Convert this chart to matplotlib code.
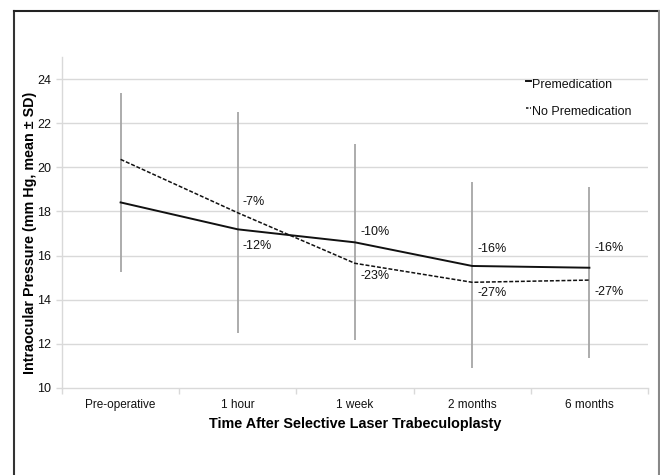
import matplotlib
matplotlib.use("Agg")
import matplotlib.pyplot as plt
from matplotlib.lines import Line2D

categories = ["Pre-operative", "1 hour", "1 week", "2 months", "6 months"]
series_names = ["Premedication", "No Premedication"]
premed = [18.41, 17.19, 16.60, 15.53, 15.45]
no_premed = [20.36, 17.94, 15.65, 14.79, 14.89]
sd_low = [15.26, 12.49, 12.17, 10.90, 11.34]
sd_high = [23.38, 22.51, 21.06, 19.35, 19.12]
premed_labels = ["", "-7%", "-10%", "-16%", "-16%"]
no_premed_labels = ["", "-12%", "-23%", "-27%", "-27%"]
yticks = [10, 12, 14, 16, 18, 20, 22, 24]

plt.rcParams['font.family'] = ['Liberation Sans', 'DejaVu Sans']

W, H = 660, 475
fig = plt.figure(figsize=(6.6, 4.75), dpi=100)
ax = fig.add_axes([62/W, 1-388/H, (648-62)/W, (388-57)/H])

x = [i + 0.5 for i in range(len(categories))]
grid_c = '#d9d9d9'
for yt in yticks:
    if yt > 10:
        ax.axhline(yt, color=grid_c, lw=1.0, zorder=0)

solid_style = dict(color='#111111', lw=1.4)
dash_style = dict(color='#111111', lw=1.1, ls=(0, (2.6, 1.2)))

ax.vlines(x, sd_low, sd_high, color='#a6a6a6', lw=1.3, zorder=1)
ax.plot(x, premed, zorder=3, **solid_style)
ax.plot(x, no_premed, zorder=3, **dash_style)

prem_off = [0, 27, 10, 17, 20]
nop_off = [0, -33, -13, -11, -12]
for i in range(len(categories)):
    if premed_labels[i]:
        ax.annotate(premed_labels[i], (x[i], premed[i]), xytext=(5, prem_off[i]),
                    textcoords='offset pixels', ha='left', va='center', fontsize=9, color='#111111')
    if no_premed_labels[i]:
        ax.annotate(no_premed_labels[i], (x[i], no_premed[i]), xytext=(5, nop_off[i]),
                    textcoords='offset pixels', ha='left', va='center', fontsize=9, color='#111111')

ax.set_xlim(0, 5)
ax.set_ylim(10, 25)
ax.set_yticks(yticks)
ax.set_yticklabels([str(v) for v in yticks], fontsize=9, color='#111111')
ax.set_xticks(x)
ax.set_xticklabels(categories, fontsize=8.5, color='#111111')
ax.set_xticks(range(0, 6), minor=True)
ax.tick_params(axis='x', which='major', length=0, pad=8)
ax.tick_params(axis='x', which='minor', length=4, color=grid_c, width=1)
ax.tick_params(axis='y', length=4, color=grid_c, width=1, pad=4)

for s in ['top', 'right']:
    ax.spines[s].set_visible(False)
for s in ['left', 'bottom']:
    ax.spines[s].set_color(grid_c)
    ax.spines[s].set_linewidth(1.0)

ax.set_xlabel("Time After Selective Laser Trabeculoplasty", fontsize=10.4, fontweight='bold', labelpad=4)
ax.set_ylabel("Intraocular Pressure (mm Hg, mean ± SD)", fontsize=10.3, fontweight='bold')
ax.yaxis.set_label_coords((37-62)/586, (388-233)/331)

# manual legend (handles sit high, as in the original)
leg_x_text = 532/W
leg_rows = [85, 112]
styles = [dict(color='#111111', lw=1.4),
          dict(color='#111111', lw=1.1, ls=(0, (1.6, 1.0)))]
for name, ypx, st in zip(series_names, leg_rows, styles):
    yf = 1 - ypx/H
    yh = 1 - (ypx - 4)/H
    fig.add_artist(Line2D([526/W, 531/W], [yh, yh], transform=fig.transFigure, **st))
    fig.text(leg_x_text, yf, name, ha='left', va='center', fontsize=9, color='#111111')

# outer frame
fx0, fx1, fy1 = 14/W, 659/W, 1-11/H
fig.add_artist(Line2D([fx0, fx0], [0, fy1], color='#333333', lw=1.5, transform=fig.transFigure))
fig.add_artist(Line2D([fx0, fx1], [fy1, fy1], color='#222222', lw=1.5, transform=fig.transFigure))
fig.add_artist(Line2D([fx1, fx1], [0, fy1], color='#888888', lw=1.5, transform=fig.transFigure))

fig.savefig("out.png", dpi=100)
